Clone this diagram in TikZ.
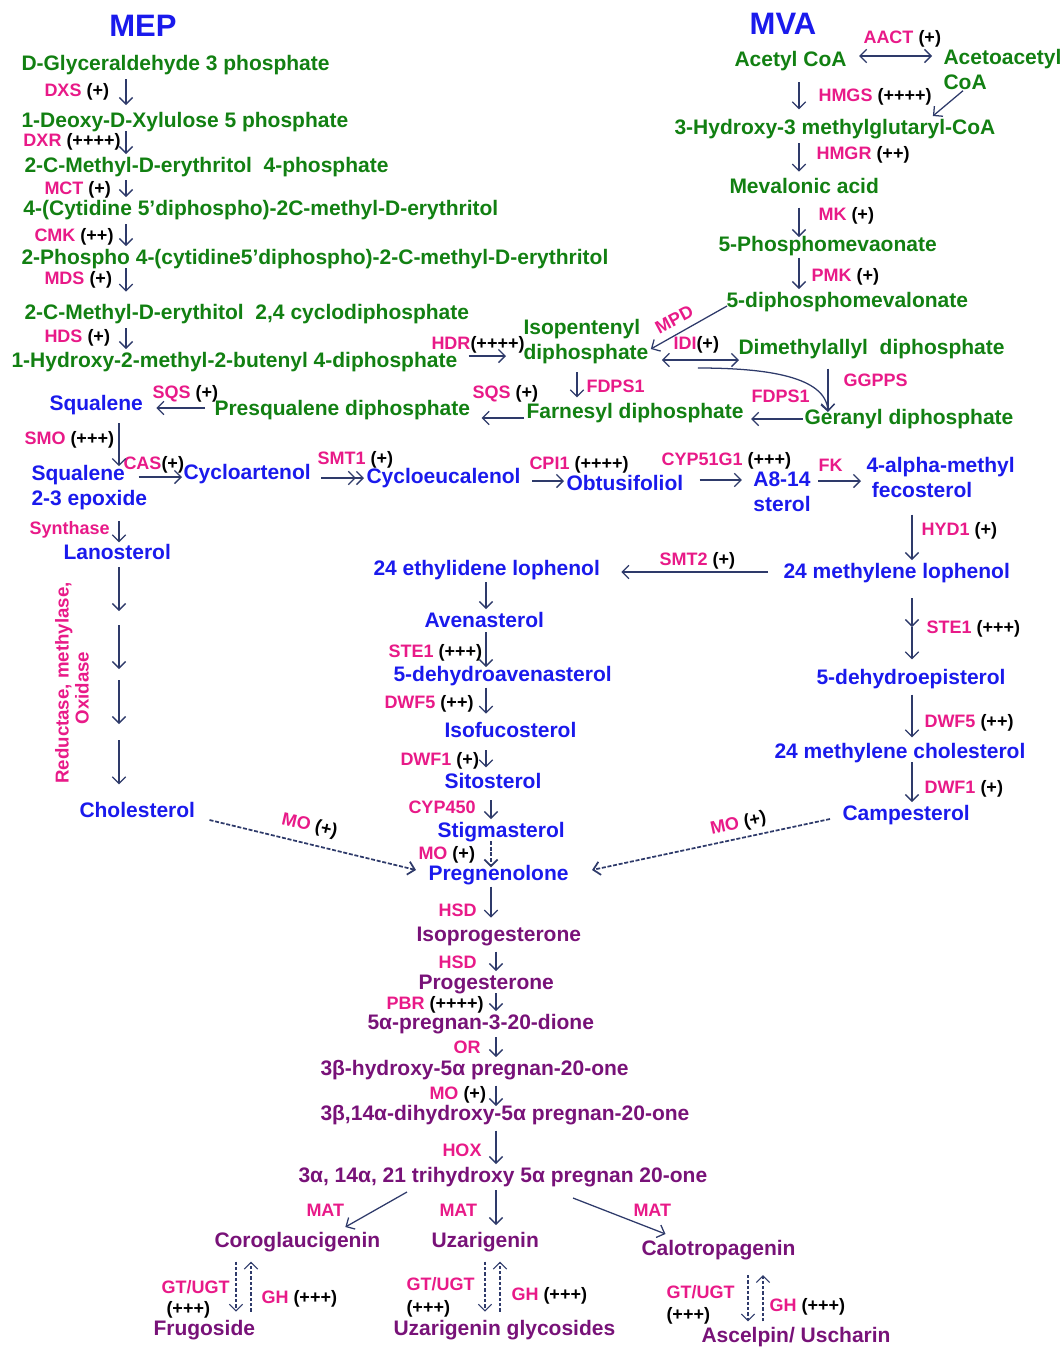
\documentclass[tikz,border=0pt]{standalone}
\usepackage{fontspec}
\setmainfont{Liberation Sans}
\usetikzlibrary{arrows.meta,calc}

\definecolor{mepgreen}{RGB}{18,128,18}
\definecolor{sterblue}{RGB}{26,26,236}
\definecolor{enzpink}{RGB}{232,26,136}
\definecolor{pregpurple}{RGB}{120,18,120}
\definecolor{arrownavy}{RGB}{46,58,106}

\newcommand{\lvl}[1]{{\color{black}#1}}

\tikzset{every picture/.style={line width=0.75pt}}
\tikzset{
  cpd/.style={anchor=west, inner sep=0.75pt, font=\fontsize{15.75}{18.75}\selectfont\bfseries, text height=12.75pt, text depth=1.5pt},
  cpdtwo/.style={anchor=west, inner sep=0.75pt, font=\fontsize{15.75}{18.75}\selectfont\bfseries, align=left},
  mepc/.style={cpd, text=mepgreen},
  mepctwo/.style={cpdtwo, text=mepgreen},
  ster/.style={cpd, text=sterblue},
  stertwo/.style={cpdtwo, text=sterblue},
  pregc/.style={cpd, text=pregpurple},
  enz/.style={anchor=west, inner sep=0.75pt, font=\fontsize{13.5}{16}\selectfont\bfseries, text=enzpink, text height=11pt, text depth=1pt},
  lvlnode/.style={enz, text=black},
  hdr/.style={font=\fontsize{23.25}{26}\selectfont\bfseries, text=sterblue, inner sep=0.75pt},
  rxn/.style={draw=arrownavy, line width=0.95pt, -{Straight Barb[length=5pt,width=10pt]}},
  rxnd/.style={rxn, line width=1.3pt, dash pattern=on 3pt off 1.3pt},
  rxng/.style={rxn, line width=0.8pt, dash pattern=on 2.5pt off 1.5pt},
  rev/.style={draw=arrownavy, line width=0.95pt, {Straight Barb[length=5pt,width=10pt]}-{Straight Barb[length=5pt,width=10pt]}},
}

\begin{document}
\begin{tikzpicture}[x=0.75pt,y=0.75pt,yscale=-1,xscale=1]
    \useasboundingbox (0,0) rectangle (1062,1347);

    % columns of the vertical arrows
    \coordinate (mepcol) at (126,0);
    \coordinate (mvacol) at (799,0);
    \coordinate (fdpscol) at (577,0);
    \coordinate (ggcol) at (828,0);
    \coordinate (leftcol) at (119,0);
    \coordinate (stcol) at (486,0);
    \coordinate (stcoltwo) at (491,0);
    \coordinate (rcol) at (912,0);
    \coordinate (pcol) at (496,0);
    \coordinate (glyLa) at (236,0);
    \coordinate (glyLb) at (251,0);
    \coordinate (glyMa) at (485,0);
    \coordinate (glyMb) at (500,0);
    \coordinate (glyRa) at (748,0);
    \coordinate (glyRb) at (763,0);

    % Text Node
    \draw (143,26) node [hdr] (mephdr) {MEP};
    % Text Node
    \draw (783,24) node [hdr] (mvahdr) {MVA};

    % Text Node
    \draw (20,63) node [mepc] (g3p) {D-Glyceraldehyde 3 phosphate};
    % Text Node
    \draw (20,120) node [mepc] (dxp) {1-Deoxy-D-Xylulose 5 phosphate};
    % Text Node
    \draw (23,165) node [mepc] (mep) {2-C-Methyl-D-erythritol~~4-phosphate};
    % Text Node
    \draw (22,208) node [mepc] (cdpme) {4-(Cytidine 5’diphospho)-2C-methyl-D-erythritol};
    % Text Node
    \draw (20,257) node [mepc] (cdpmep) {2-Phospho 4-(cytidine5’diphospho)-2-C-methyl-D-erythritol};
    % Text Node
    \draw (23,312) node [mepc] (mecpp) {2-C-Methyl-D-erythitol~~2,4 cyclodiphosphate};
    % Text Node
    \draw (10,360) node [mepc] (hmbpp) {1-Hydroxy-2-methyl-2-butenyl 4-diphosphate};
    % Text Node
    \draw (522,342) node [mepctwo] (ipp) {Isopentenyl\\diphosphate};

    % Text Node
    \draw (733,59) node [mepc] (acoa) {Acetyl CoA};
    % Text Node
    \draw (942,69) node [mepctwo] (aacoa) {Acetoacetyl\\CoA};
    % Text Node
    \draw (673,127) node [mepc] (hmgcoa) {3-Hydroxy-3 methylglutaryl-CoA};
    % Text Node
    \draw (728,186) node [mepc] (mva) {Mevalonic acid};
    % Text Node
    \draw (717,244) node [mepc] (mvp) {5-Phosphomevaonate};
    % Text Node
    \draw (725,300) node [mepc] (mvpp) {5-diphosphomevalonate};
    % Text Node
    \draw (737,347) node [mepc] (dmapp) {Dimethylallyl~~diphosphate};
    % Text Node
    \draw (803,417) node [mepc] (gpp) {Geranyl diphosphate};
    % Text Node
    \draw (525,411) node [mepc] (fpp) {Farnesyl diphosphate};
    % Text Node
    \draw (213,408) node [mepc] (psq) {Presqualene diphosphate};

    % Text Node
    \draw (48,403) node [ster] (sq) {Squalene};
    % Text Node
    \draw (30,488) node [stertwo] (sqe) {Squalene\\2-3 epoxide};
    % Text Node
    \draw (182,472) node [ster] (cyart) {Cycloartenol};
    % Text Node
    \draw (365,476) node [ster] (cyeuc) {Cycloeucalenol};
    % Text Node
    \draw (565,483) node [ster] (obt) {Obtusifoliol};
    % Text Node
    \draw (782,492) node [stertwo, anchor=center, align=center] (a814) {A8-14\\sterol};
    % Text Node
    \draw (865,477) node [stertwo] (amf) {4-alpha-methyl\\\hspace*{4pt}fecosterol};
    % Text Node
    \draw (62,552) node [ster] (lan) {Lanosterol};
    % Text Node
    \draw (782,571) node [ster] (mloph) {24 methylene lophenol};
    % Text Node
    \draw (372,568) node [ster] (eloph) {24 ethylidene lophenol};
    % Text Node
    \draw (423,620) node [ster] (aven) {Avenasterol};
    % Text Node
    \draw (392,674) node [ster] (dav) {5-dehydroavenasterol};
    % Text Node
    \draw (443,730) node [ster] (isof) {Isofucosterol};
    % Text Node
    \draw (443,781) node [ster] (sito) {Sitosterol};
    % Text Node
    \draw (436,830) node [ster] (stig) {Stigmasterol};
    % Text Node
    \draw (427,873) node [ster] (preg) {Pregnenolone};
    % Text Node
    \draw (78,810) node [ster] (chol) {Cholesterol};
    % Text Node
    \draw (815,677) node [ster] (dep) {5-dehydroepisterol};
    % Text Node
    \draw (773,751) node [ster] (mchol) {24 methylene cholesterol};
    % Text Node
    \draw (841,813) node [ster] (camp) {Campesterol};

    % Text Node
    \draw (415,934) node [pregc] (isop) {Isoprogesterone};
    % Text Node
    \draw (417,982) node [pregc] (prog) {Progesterone};
    % Text Node
    \draw (366,1022) node [pregc] (dione) {5α-pregnan-3-20-dione};
    % Text Node
    \draw (319,1068) node [pregc] (hyd) {3β-hydroxy-5α pregnan-20-one};
    % Text Node
    \draw (319,1113) node [pregc] (dihyd) {3β,14α-dihydroxy-5α pregnan-20-one};
    % Text Node
    \draw (297,1175) node [pregc] (trihyd) {3α, 14α, 21 trihydroxy 5α pregnan 20-one};
    % Text Node
    \draw (213,1240) node [pregc] (corog) {Coroglaucigenin};
    % Text Node
    \draw (430,1240) node [pregc] (uzar) {Uzarigenin};
    % Text Node
    \draw (640,1248) node [pregc] (calo) {Calotropagenin};
    % Text Node
    \draw (152,1328) node [pregc] (frug) {Frugoside};
    % Text Node
    \draw (392,1328) node [pregc] (uzgly) {Uzarigenin glycosides};
    % Text Node
    \draw (700,1335) node [pregc] (ascl) {Ascelpin/ Uscharin};

    % Enzyme labels
    \draw (43,90) node [enz] (dxs) {DXS \lvl{(+)}};
    \draw (22,140) node [enz] (dxr) {DXR \lvl{(++++)}};
    \draw (43,188) node [enz] (mct) {MCT \lvl{(+)}};
    \draw (33,235) node [enz] (cmk) {CMK \lvl{(++)}};
    \draw (43,278) node [enz] (mds) {MDS \lvl{(+)}};
    \draw (43,336) node [enz] (hds) {HDS \lvl{(+)}};
    \draw (430,343) node [enz] (hdr) {HDR\lvl{(++++)}};
    \draw (862,37) node [enz] (aact) {AACT \lvl{(+)}};
    \draw (817,95) node [enz] (hmgs) {HMGS \lvl{(++++)}};
    \draw (815,153) node [enz] (hmgr) {HMGR \lvl{(++)}};
    \draw (817,214) node [enz] (mk) {MK \lvl{(+)}};
    \draw (810,275) node [enz] (pmk) {PMK \lvl{(+)}};
    \draw (674,319) node [enz, anchor=center, rotate=28] (mpd) {MPD};
    \draw (672,343) node [enz] (idi) {IDI\lvl{(+)}};
    \draw (842,380) node [enz] (ggpps) {GGPPS};
    \draw (750,396) node [enz] (fdpsr) {FDPS1};
    \draw (585,386) node [enz] (fdpsl) {FDPS1};
    \draw (471,392) node [enz] (sqsr) {SQS \lvl{(+)}};
    \draw (151,392) node [enz] (sqsl) {SQS \lvl{(+)}};
    \draw (23,438) node [enz] (smo) {SMO \lvl{(+++)}};
    \draw (122,463) node [enz] (cas) {CAS\lvl{(+)}};
    \draw (316,458) node [enz] (smtone) {SMT1 \lvl{(+)}};
    \draw (528,463) node [enz] (cpione) {CPI1 \lvl{(++++)}};
    \draw (660,459) node [enz] (cypfg) {CYP51G1 \lvl{(+++)}};
    \draw (817,465) node [enz] (fk) {FK};
    \draw (920,529) node [enz] (hydone) {HYD1 \lvl{(+)}};
    \draw (658,559) node [enz] (smttwo) {SMT2 \lvl{(+)}};
    \draw (28,528) node [enz] (synth) {Synthase};
    \draw (62,683) node [enz, anchor=center, rotate=90, font=\fontsize{14}{16}\selectfont\bfseries] (redlab) {Reductase, methylase,};
    \draw (82,688) node [enz, anchor=center, rotate=90, font=\fontsize{14}{16}\selectfont\bfseries] (oxlab) {Oxidase};
    \draw (387,651) node [enz] (steonea) {STE1 \lvl{(+++)}};
    \draw (383,702) node [enz] (dwffivea) {DWF5 \lvl{(++)}};
    \draw (399,759) node [enz] (dwfonea) {DWF1 \lvl{(+)}};
    \draw (407,807) node [enz] (cypff) {CYP450};
    \draw (417,853) node [enz] (moa) {MO \lvl{(+)}};
    \draw (925,627) node [enz] (steoneb) {STE1 \lvl{(+++)}};
    \draw (923,721) node [enz] (dwffiveb) {DWF5 \lvl{(++)}};
    \draw (923,787) node [enz] (dwfoneb) {DWF1 \lvl{(+)}};
    \draw (310,824) node [enz, anchor=center, rotate=-13] (mol) {MO \lvl{(+)}};
    \draw (738,822) node [enz, anchor=center, rotate=12] (mor) {MO \lvl{(+)}};
    \draw (437,910) node [enz] (hsda) {HSD};
    \draw (437,962) node [enz] (hsdb) {HSD};
    \draw (385,1003) node [enz] (pbr) {PBR \lvl{(++++)}};
    \draw (452,1047) node [enz] (orlab) {OR};
    \draw (428,1093) node [enz] (mob) {MO \lvl{(+)}};
    \draw (441,1150) node [enz] (hox) {HOX};
    \draw (305,1210) node [enz] (matl) {MAT};
    \draw (438,1210) node [enz] (matm) {MAT};
    \draw (632,1210) node [enz] (matr) {MAT};
    \draw (160,1287) node [enz] (gtl) {GT/UGT};
    \draw (165,1308) node [lvlnode] (pll) {(+++)};
    \draw (260,1297) node [enz] (ghl) {GH \lvl{(+++)}};
    \draw (405,1284) node [enz] (gtm) {GT/UGT};
    \draw (405,1307) node [lvlnode] (plm) {(+++)};
    \draw (510,1294) node [enz] (ghm) {GH \lvl{(+++)}};
    \draw (665,1292) node [enz] (gtr) {GT/UGT};
    \draw (665,1314) node [lvlnode] (plr) {(+++)};
    \draw (768,1305) node [enz] (ghr) {GH \lvl{(+++)}};

    %Straight Lines: MEP chain
    \draw [rxn, shorten <=4pt, shorten >=3pt] (g3p.south -| mepcol) -- (dxp.north -| mepcol);
    \draw [rxn] (dxp.south -| mepcol) -- (mep.north -| mepcol);
    \draw [rxn, shorten <=3pt] (mep.south -| mepcol) -- (cdpme.north -| mepcol);
    \draw [rxn, shorten <=4pt] (cdpme.south -| mepcol) -- (cdpmep.north -| mepcol);
    \draw [rxn, shorten >=7pt] (cdpmep.south -| mepcol) -- (mecpp.north -| mepcol);
    \draw [rxn, shorten <=4pt] (mecpp.south -| mepcol) -- (hmbpp.north -| mepcol);
    \draw [rxn] ($(hmbpp.east)+(10,-4)$) -- ($(ipp.west |- hmbpp.east)+(-16,-4)$);

    %Straight Lines: MVA chain
    \draw [rev] ($(acoa.east)+(11,-3)$) -- ($(aacoa.west |- acoa.east)+(-10,-3)$);
    \draw [rxn] ($(aacoa.south west)+(21,0)$) -- ($(hmgcoa.north east)+(-64,0)$);
    \draw [rxn, shorten <=9pt, shorten >=5pt] (acoa.south -| mvacol) -- (hmgcoa.north -| mvacol);
    \draw [rxn, shorten <=4pt, shorten >=2.5pt] (hmgcoa.south -| mvacol) -- (mva.north -| mvacol);
    \draw [rxn, shorten <=8pt, shorten >=-3pt] (mva.south -| mvacol) -- (mvp.north -| mvacol);
    \draw [rxn, shorten <=2pt] (mvp.south -| mvacol) -- (mvpp.north -| mvacol);
    \draw [rxn] ($(mvpp.west)+(2,6)$) -- ($(ipp.east)+(1,7)$);
    \draw [rev] ($(ipp.east)+(12,18)$) -- ($(dmapp.west)+(2,13)$);
    %Curve Lines
    \draw [rxn] ($(ipp.east)+(48,26)$) .. controls (765,368) and (826,376) .. ($(gpp.north -| ggcol)+(0,6)$);
    \draw [rxn, shorten <=8pt, shorten >=-4pt] (dmapp.south -| ggcol) -- (gpp.north -| ggcol);
    \draw [rxn] ($(gpp.west)+(0,2)$) -- ($(fpp.east |- gpp.west)+(6,2)$);
    \draw [rxn, shorten <=5pt, shorten >=2pt] (ipp.south -| fdpscol) -- (fpp.north -| fdpscol);
    \draw [rxn] ($(fpp.west)+(-1,7)$) -- ($(psq.east |- fpp.west)+(10,7)$);
    \draw [rxn] ($(psq.west)+(-8,0)$) -- ($(sq.east |- psq.west)+(12,0)$);

    %Straight Lines: sterols
    \draw [rxn, shorten <=7pt, shorten >=-1.5pt] (sq.south -| leftcol) -- (sqe.north -| leftcol);
    \draw [rxn] ($(sqe.east |- cyart.west)+(-10,5)$) -- ($(cyart.west)+(0,5)$);
    \draw [rxn, -{Straight Barb[length=5pt,width=10pt] Straight Barb[length=5pt,width=10pt]}] ($(cyart.east)+(9,6)$) -- ($(cyeuc.west)+(-1,2)$);
    \draw [rxn] ($(cyeuc.east)+(10,5)$) -- ($(obt.west)+(-1,-2)$);
    \draw [rxn] ($(obt.east)+(15,-3)$) -- ($(a814.west)+(-10,-12)$);
    \draw [rxn] ($(a814.east)+(6,-11)$) -- ($(amf.west)+(-4,4)$);
    \draw [rxn, shorten <=12pt] (amf.south -| rcol) -- (mloph.north -| rcol);
    \draw [rxn] ($(mloph.west)+(-14,1)$) -- ($(eloph.east |- mloph.west)+(20,1)$);
    \draw [rxn, shorten <=2.5pt] (eloph.south -| stcol) -- (aven.north -| stcol);
    \draw [rxn, shorten <=1pt, shorten >=-3pt] (aven.south -| stcol) -- (dav.north -| stcol);
    \draw [rxn, shorten <=2pt, shorten >=4pt] (dav.south -| stcol) -- (isof.north -| stcol);
    \draw [rxn, shorten <=7pt, shorten >=2pt] (isof.south -| stcol) -- (sito.north -| stcol);
    \draw [rxn, shorten <=6pt] (sito.south -| stcoltwo) -- (stig.north -| stcoltwo);
    \draw [rxnd, shorten >=-4pt] (stig.south -| stcoltwo) -- (preg.north -| stcoltwo);

    %Straight Lines: lanosterol to cholesterol
    \draw [rxn, shorten <=7pt, shorten >=-1pt] (sqe.south -| leftcol) -- (lan.north -| leftcol);
    \coordinate (lstepa) at (119,611);
    \coordinate (lstepb) at (119,625);
    \coordinate (lstepc) at (119,669);
    \coordinate (lstepd) at (119,680);
    \coordinate (lstepe) at (119,724);
    \coordinate (lstepf) at (119,740);
    \draw [rxn, shorten <=3pt] (lan.south -| leftcol) -- (lstepa);
    \draw [rxn] (lstepb) -- (lstepc);
    \draw [rxn] (lstepd) -- (lstepe);
    \draw [rxn, shorten >=11pt] (lstepf) -- (chol.north -| leftcol);
    \draw [rxnd] ($(chol.east)+(13,10)$) -- ($(preg.west)+(-11,-3)$);

    %Straight Lines: right column
    \draw [rxn, shorten <=12pt] (mloph.south -| rcol) -- (steoneb.west -| rcol);
    \draw [rxn, shorten >=5pt] (steoneb.west -| rcol) -- (dep.north -| rcol);
    \draw [rxn, shorten <=5pt, shorten >=2pt] (dep.south -| rcol) -- (mchol.north -| rcol);
    \draw [rxn] (mchol.south -| rcol) -- (camp.north -| rcol);
    \draw [rxnd] ($(camp.west)+(-11,6)$) -- ($(preg.east)+(22,-3)$);

    %Straight Lines: pregnane chain
    \draw [rxn, shorten <=2pt, shorten >=4pt] (preg.south -| stcoltwo) -- (isop.north -| stcoltwo);
    \draw [rxn, shorten <=5pt] (isop.south -| pcol) -- (prog.north -| pcol);
    \draw [rxn] (prog.south -| pcol) -- (dione.north -| pcol);
    \draw [rxn, shorten <=3pt] (dione.south -| pcol) -- (hyd.north -| pcol);
    \draw [rxn, shorten <=5pt, shorten >=-3pt] (hyd.south -| pcol) -- (dihyd.north -| pcol);
    \draw [rxn, shorten <=5pt] (dihyd.south -| pcol) -- (trihyd.north -| pcol);
    \draw [rxn] ($(trihyd.south west)+(110,6)$) -- ($(corog.north)+(48,-2)$);
    \draw [rxn, shorten <=3pt, shorten >=3pt] (trihyd.south -| pcol) -- (uzar.north -| pcol);
    \draw [rxn] ($(trihyd.south west)+(276,12)$) -- ($(calo.north)+(-53,-3)$);

    %Straight Lines: glycosides
    \draw [rxng, shorten <=8pt, shorten >=4pt] (corog.south -| glyLa) -- (frug.north -| glyLa);
    \draw [rxng, shorten <=4pt, shorten >=8pt] (frug.north -| glyLb) -- (corog.south -| glyLb);
    \draw [rxng, shorten <=8pt, shorten >=4pt] (uzar.south -| glyMa) -- (uzgly.north -| glyMa);
    \draw [rxng, shorten <=4pt, shorten >=8pt] (uzgly.north -| glyMb) -- (uzar.south -| glyMb);
    \draw [rxng, shorten <=12pt, shorten >=2pt] (calo.south -| glyRa) -- (ascl.north -| glyRa);
    \draw [rxng, shorten <=2pt, shorten >=12pt] (ascl.north -| glyRb) -- (calo.south -| glyRb);
\end{tikzpicture}
\end{document}
